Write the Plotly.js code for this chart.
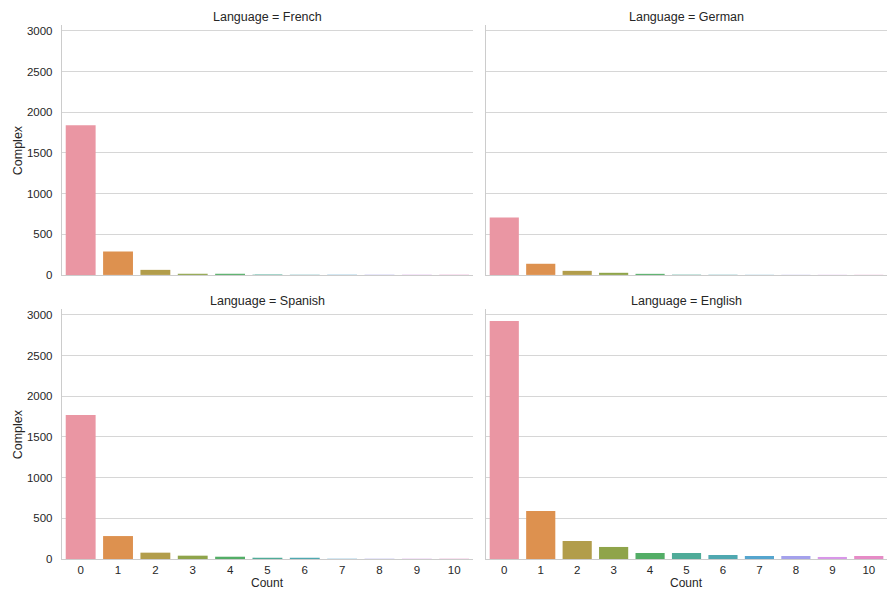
<!DOCTYPE html>
<html>
<head>
<meta charset="utf-8">
<script src="https://cdn.plot.ly/plotly-3.0.1.min.js"></script>
<style>
  html, body { margin: 0; padding: 0; background: #fff; }
  #chart { width: 888px; height: 589px; }
</style>
</head>
<body>
<div id="chart"></div>
<script>
// Category labels along the x axis
const counts = ["0", "1", "2", "3", "4", "5", "6", "7", "8", "9", "10"];

// Number of "Complex" items per count, one array per language facet
const french  = [1840, 287, 62, 14, 14, 4, 3, 3, 2, 2, 2];
const german  = [705, 137, 50, 26, 13, 4, 3, 2, 2, 2, 2];
const spanish = [1770, 282, 78, 41, 28, 16, 16, 3, 2, 2, 2];
const english = [2925, 590, 221, 148, 74, 74, 49, 37, 37, 25, 37];

// Facet order: top-left, top-right, bottom-left, bottom-right
const languages = ["French", "German", "Spanish", "English"];
const series = [french, german, spanish, english];

// Desaturated husl-style palette, one colour per count category
const palette = [
  "#ea96a3", "#dd914f", "#b29d4b", "#8fa44a", "#53ad66", "#4fab98",
  "#4fa8b0", "#55a5ce", "#a4a1ec", "#d897e8", "#e68bc6"
];

const axisIds = [["x", "y"], ["x2", "y2"], ["x3", "y3"], ["x4", "y4"]];

const traces = series.map((vals, i) => ({
  type: "bar",
  x: counts,
  y: vals,
  xaxis: axisIds[i][0],
  yaxis: axisIds[i][1],
  marker: { color: palette, line: { width: 0 } },
  hoverinfo: "x+y",
  showlegend: false
}));

const textColor = "#262626";
const fontFamily = "Liberation Sans, Arial, sans-serif";
const yMax = 3072;

const xDomL = [0, 0.498];
const xDomR = [0.514, 1];
const yDomT = [0.532, 1];
const yDomB = [0, 0.468];

function xAxis(domain, anchor, showLabels) {
  return {
    domain: domain,
    anchor: anchor,
    type: "category",
    range: [-0.5, 10.5],
    showline: true,
    linecolor: "#cccccc",
    linewidth: 1.2,
    showgrid: false,
    zeroline: false,
    ticks: "",
    ticklabelstandoff: 0,
    showticklabels: showLabels,
    tickfont: { family: fontFamily, size: 11.5, color: textColor },
    fixedrange: true
  };
}

function yAxis(domain, anchor, showLabels) {
  return {
    domain: domain,
    anchor: anchor,
    range: [0, yMax],
    tickvals: [0, 500, 1000, 1500, 2000, 2500, 3000],
    showline: true,
    linecolor: "#cccccc",
    linewidth: 1.2,
    showgrid: true,
    gridcolor: "#d6d6d6",
    gridwidth: 1,
    zeroline: false,
    ticks: "",
    ticklabelstandoff: 6,
    showticklabels: showLabels,
    tickfont: { family: fontFamily, size: 11.5, color: textColor },
    fixedrange: true
  };
}

const labelFont = { family: fontFamily, size: 12.5, color: textColor };

// Facet headers centred above each panel
const centres = [
  [(xDomL[0] + xDomL[1]) / 2, yDomT[1]],
  [(xDomR[0] + xDomR[1]) / 2, yDomT[1]],
  [(xDomL[0] + xDomL[1]) / 2, yDomB[1]],
  [(xDomR[0] + xDomR[1]) / 2, yDomB[1]]
];
const annotations = languages.map((lang, i) => ({
  text: "Language = " + lang,
  xref: "paper",
  yref: "paper",
  x: centres[i][0],
  y: centres[i][1],
  xanchor: "center",
  yanchor: "bottom",
  yshift: -1,
  showarrow: false,
  font: labelFont
}));

// Axis titles: "Count" under each bottom panel, "Complex" beside each left panel
[xDomL, xDomR].forEach(dom => {
  annotations.push({
    text: "Count",
    xref: "paper", yref: "paper",
    x: (dom[0] + dom[1]) / 2, y: -0.0455,
    xanchor: "center", yanchor: "middle",
    borderpad: 0,
    showarrow: false,
    font: { family: fontFamily, size: 12, color: textColor }
  });
});
[yDomT, yDomB].forEach(dom => {
  annotations.push({
    text: "Complex",
    xref: "paper", yref: "paper",
    x: -0.053, y: (dom[0] + dom[1]) / 2,
    xanchor: "center", yanchor: "middle",
    textangle: -90,
    borderpad: 0,
    showarrow: false,
    font: labelFont
  });
});

const layout = {
  width: 888,
  height: 589,
  margin: { l: 62, r: 1, t: 25, b: 30 },
  paper_bgcolor: "#ffffff",
  plot_bgcolor: "#ffffff",
  bargap: 0.2,
  font: { family: fontFamily, color: textColor },
  xaxis:  xAxis(xDomL, "y", false),
  yaxis:  yAxis(yDomT, "x", true),
  xaxis2: xAxis(xDomR, "y2", false),
  yaxis2: yAxis(yDomT, "x2", false),
  xaxis3: xAxis(xDomL, "y3", true),
  yaxis3: yAxis(yDomB, "x3", true),
  xaxis4: xAxis(xDomR, "y4", true),
  yaxis4: yAxis(yDomB, "x4", false),
  annotations: annotations
};

Plotly.newPlot("chart", traces, layout, { displayModeBar: false, staticPlot: true });
</script>
</body>
</html>
